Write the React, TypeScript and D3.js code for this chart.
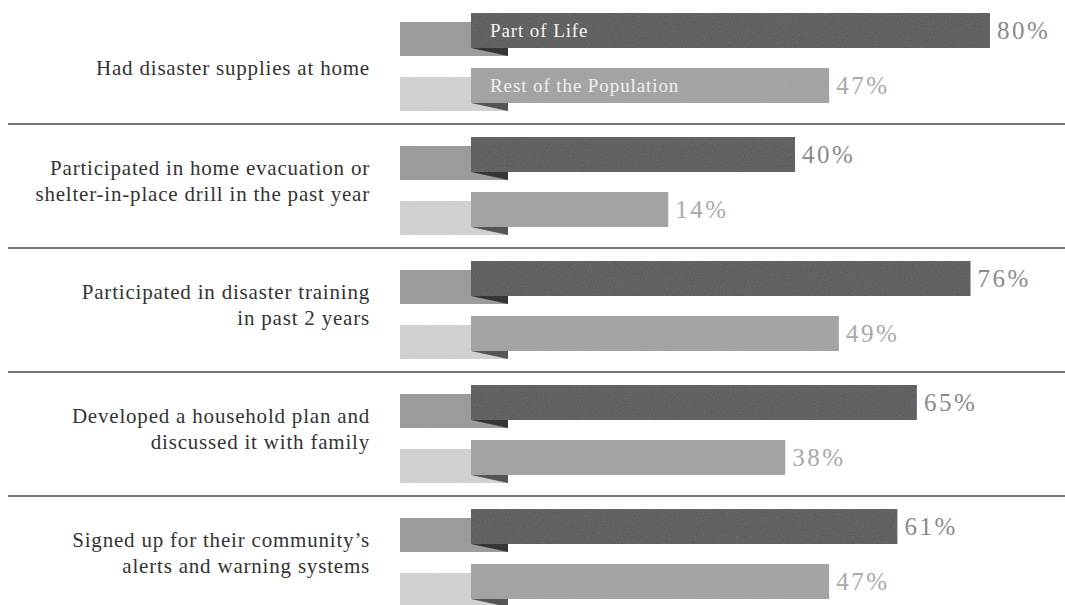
import * as React from 'react';
import * as d3 from 'd3';

const categories = [
  ['Had disaster supplies at home'],
  ['Participated in home evacuation or', 'shelter-in-place drill in the past year'],
  ['Participated in disaster training', 'in past 2 years'],
  ['Developed a household plan and', 'discussed it with family'],
  ['Signed up for their community\u2019s', 'alerts and warning systems'],
];
const partOfLife = [80, 40, 76, 65, 61];
const restOfPopulation = [47, 14, 49, 38, 47];
const seriesNames = ['Part of Life', 'Rest of the Population'];

const W = 1065;
const H = 605;

const series = [
  { name: seriesNames[0], values: partOfLife, bar: '#575757', tail: '#999999', fold: '#363636', text: '#8a8a8a', legend: '#f4f4f4' },
  { name: seriesNames[1], values: restOfPopulation, bar: '#a2a2a2', tail: '#d2d2d2', fold: '#555555', text: '#a9a9a9', legend: '#eeeeee' },
];

export default function App() {
  const y = d3.scaleBand<number>()
    .domain(d3.range(categories.length))
    .range([0, 620]);
  const x = d3.scaleLinear().domain([0, 80]).range([600, 990]);

  const barStart = 471;
  const tailStart = 400;
  const tailEnd = 508;
  const barH = 35;
  const rowOffset = [13, 68];

  const serif = '"Liberation Serif", "DejaVu Serif", serif';

  return (
    <svg width={W} height={H} style={{ position: 'absolute', left: 0, top: 0, background: '#fff' }}>
      <defs>
        <filter id="grain" x="0" y="0" width="100%" height="100%">
          <feTurbulence type="fractalNoise" baseFrequency="0.9" numOctaves={2} seed={3} result="n" />
          <feColorMatrix in="n" type="matrix" values="0 0 0 0 0.5  0 0 0 0 0.5  0 0 0 0 0.5  0 0 0 0.15 0" result="g" />
          <feComposite in="g" in2="SourceGraphic" operator="in" result="gi" />
          <feMerge>
            <feMergeNode in="SourceGraphic" />
            <feMergeNode in="gi" />
          </feMerge>
        </filter>
      </defs>
      {d3.range(1, categories.length).map(i => (
        <line key={'sep' + i} x1={8} x2={W} y1={y(i)!} y2={y(i)!} stroke="#4a4a4a" strokeWidth={1.6} />
      ))}
      {categories.map((lines, i) => {
        const top = y(i)!;
        const mid = top + (lines.length === 1 ? 68 : 57);
        return (
          <g key={'cat' + i}>
            <text
              textAnchor="end"
              fontFamily={serif}
              fontSize={21}
              letterSpacing={0.8}
              fill="#333"
            >
              {lines.map((ln, j) => (
                <tspan key={j} x={370} y={mid + (j - (lines.length - 1) / 2) * 26} dy="0.35em">{ln}</tspan>
              ))}
            </text>
            {series.map((s, k) => {
              const by = top + rowOffset[k];
              const tailTop = by + 9;
              const tailBottom = by + barH + 8;
              const v = s.values[i];
              return (
                <g key={s.name}>
                  <rect x={tailStart} y={tailTop} width={tailEnd - tailStart} height={tailBottom - tailTop} fill={s.tail} filter="url(#grain)" />
                  <path d={`M${barStart},${by + barH}L${tailEnd},${by + barH}L${tailEnd},${tailBottom}Z`} fill={s.fold} />
                  <rect x={barStart} y={by} width={x(v) - barStart} height={barH} fill={s.bar} filter="url(#grain)" />
                  <text x={x(v) + 7} y={by + barH / 2} dy="0.35em" fontFamily={serif} fontSize={25} letterSpacing={2.5} fill={s.text}>
                    {v}%
                  </text>
                  {i === 0 && (
                    <text x={barStart + 19} y={by + barH / 2} dy="0.35em" fontFamily={serif} fontSize={19} letterSpacing={0.9} fill={s.legend}>
                      {s.name}
                    </text>
                  )}
                </g>
              );
            })}
          </g>
        );
      })}
    </svg>
  );
}
